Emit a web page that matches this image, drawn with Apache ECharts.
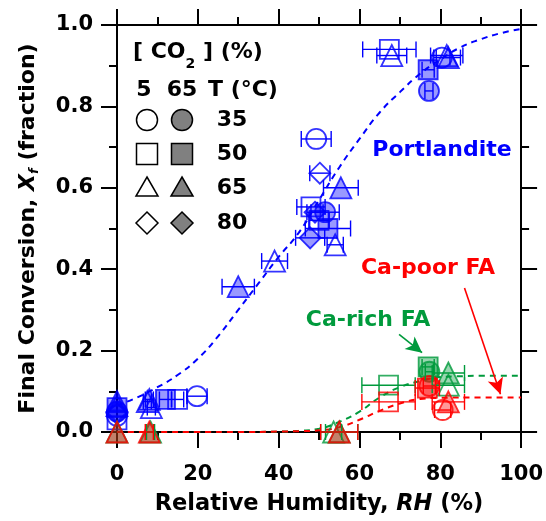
<!DOCTYPE html>
<html>
<head>
<meta charset="utf-8">
<script src="https://cdn.jsdelivr.net/npm/echarts@6/dist/echarts.min.js"></script>
<style>
  html, body { margin: 0; padding: 0; background: #fff; }
  #chart { width: 546px; height: 521px; }
</style>
</head>
<body>
<div id="chart"></div>
<script>
// rows: [RH, Xf, RH error (±), T (°C), CO2 (%)]
const portlandite = [
  [0, 0.06, 0, 50, 65], [0, 0.03, 0, 50, 5], [0, 0.075, 0, 65, 65], [0, 0.065, 0, 65, 5],
  [0, 0.045, 0, 80, 5], [0, 0.05, 0, 80, 65], [0, 0.04, 0, 35, 5], [0, 0.05, 0, 35, 65],
  [8, 0.08, 1, 65, 65], [7.5, 0.075, 1, 65, 5], [8.5, 0.06, 1, 65, 5],
  [12, 0.08, 1.5, 50, 65], [15, 0.08, 1.5, 50, 5], [19.8, 0.088, 2.5, 35, 5],
  [30, 0.357, 4, 65, 65], [39, 0.42, 3.2, 65, 5],
  [49.3, 0.72, 3.7, 35, 5], [50.2, 0.636, 2.5, 80, 5], [55.4, 0.60, 4.3, 65, 65],
  [48, 0.553, 3.5, 50, 5], [50, 0.52, 2.5, 50, 5], [49, 0.54, 2, 80, 65],
  [51.5, 0.54, 3.5, 35, 65], [52.2, 0.50, 5.6, 50, 65], [47.8, 0.477, 3.6, 80, 65],
  [54, 0.46, 2, 65, 5],
  [67.4, 0.94, 6.6, 50, 5], [68, 0.925, 3.7, 65, 5], [77, 0.89, 1.5, 50, 65],
  [77.2, 0.838, 1, 35, 65], [80.4, 0.92, 2, 35, 5], [81.6, 0.925, 4, 65, 5], [82, 0.92, 3, 65, 65]
];
const caRich = [
  [0, 0, 0, 65, 65], [8.3, 0, 1, 65, 65], [53.6, 0, 2, 65, 5], [55, 0, 4.6, 65, 65],
  [67.2, 0.115, 6.6, 50, 5], [77, 0.16, 1.5, 50, 65], [77.3, 0.148, 1, 35, 65],
  [82, 0.145, 4, 65, 65], [82, 0.115, 4, 65, 5]
];
const caPoor = [
  [0, 0, 0, 65, 65], [8, 0, 1, 65, 65], [55, 0, 4.6, 65, 65],
  [67.2, 0.074, 6.6, 50, 5], [76.8, 0.108, 3, 50, 65], [77.3, 0.113, 1.5, 35, 65],
  [80.6, 0.054, 2, 35, 5], [82, 0.074, 4, 65, 65]
];

// dashed fit curves
const portlanditeFit = [
  [0, 0.065], [5, 0.085], [10, 0.11], [15, 0.14], [20, 0.18], [25, 0.235], [30, 0.3],
  [35, 0.365], [40, 0.43], [45, 0.49], [50, 0.57], [55, 0.65], [60, 0.72], [65, 0.785],
  [70, 0.835], [75, 0.88], [80, 0.915], [85, 0.945], [90, 0.965], [95, 0.98], [100, 0.99]
];
const caRichFit = [
  [0, 0], [10, 0], [20, 0], [30, 0], [40, 0.001], [45, 0.003], [50, 0.008], [55, 0.025],
  [60, 0.05], [65, 0.085], [70, 0.11], [75, 0.125], [80, 0.135], [85, 0.137], [90, 0.138], [100, 0.138]
];
const caPoorFit = [
  [0, 0], [10, 0], [20, 0], [30, 0], [40, 0.001], [45, 0.002], [50, 0.004], [55, 0.012],
  [60, 0.03], [65, 0.052], [70, 0.07], [75, 0.081], [80, 0.084], [90, 0.085], [100, 0.085]
];

// annotation arrows, data coords
const richArrow = [[69.8, 0.24], [75.5, 0.195]];
const poorArrow = [[86, 0.354], [94.9, 0.093]];

const FONT = 'DejaVu Sans';
const BLUE = '#0000ff', RED = '#ff0000', GREEN = '#009a3c';
const shapeOf = { 35: 'circle', 50: 'rect', 65: 'triangle', 80: 'diamond' };
const sizeOf = { circle: 20, rect: 19, triangle: 21, diamond: 21 };

function scatterSeries(rows, color, fill) {
  return {
    type: 'scatter',
    z: 3,
    data: rows.map(r => {
      const s = shapeOf[r[3]];
      return {
        value: [r[0], r[1]],
        symbol: s,
        symbolSize: sizeOf[s],
        itemStyle: {
          color: r[4] === 65 ? fill : 'rgba(255,255,255,0)',
          borderColor: color,
          borderWidth: 1.8
        }
      };
    })
  };
}

function errorSeries(rows, color) {
  return {
    type: 'custom',
    z: 4,
    data: rows.filter(r => r[2] > 0).map(r => [r[0], r[1], r[2]]),
    renderItem: function (params, api) {
      const x = api.value(0), y = api.value(1), e = api.value(2);
      const a = api.coord([x - e, y]);
      const b = api.coord([x + e, y]);
      const h = 8;
      const st = { stroke: color, lineWidth: 1.4 };
      return {
        type: 'group',
        children: [
          { type: 'line', shape: { x1: a[0], y1: a[1], x2: b[0], y2: b[1] }, style: st },
          { type: 'line', shape: { x1: a[0], y1: a[1] - h, x2: a[0], y2: a[1] + h }, style: st },
          { type: 'line', shape: { x1: b[0], y1: b[1] - h, x2: b[0], y2: b[1] + h }, style: st }
        ]
      };
    }
  };
}

function fitSeries(data, color, arrow) {
  const s = {
    type: 'line',
    data: data,
    smooth: true,
    showSymbol: false,
    z: 2,
    lineStyle: { color: color, width: 2, type: [6, 5] }
  };
  if (arrow) {
    s.markLine = {
      silent: true,
      symbol: ['none', 'arrow'],
      symbolSize: [12, 16],
      label: { show: false },
      lineStyle: { color: color, width: 1.6, type: 'solid' },
      data: [[{ coord: arrow[0] }, { coord: arrow[1] }]]
    };
  }
  return s;
}

const axisBase = {
  type: 'value',
  axisLine: { show: true, onZero: false, lineStyle: { color: '#000', width: 2 } },
  axisTick: { show: true, length: 16, lineStyle: { color: '#000', width: 2 } },
  minorTick: { show: true, splitNumber: 2, length: 8, lineStyle: { color: '#000', width: 2 } },
  splitLine: { show: false }
};

const labelStyle = { color: '#000', fontFamily: FONT, fontWeight: 'bold', fontSize: 21 };

const chart = echarts.init(document.getElementById('chart'));

// legend block (drawn as graphics)
const lg = [];
const rowsY = [120, 154, 188, 223];
const temps = ['35', '50', '65', '80'];
function legendSymbol(kind, cx, cy, filled) {
  const style = { fill: filled ? '#808080' : '#fff', stroke: '#000', lineWidth: 1.5 };
  if (kind === 0) return { type: 'circle', shape: { cx: cx, cy: cy, r: 10.5 }, style: style };
  if (kind === 1) return { type: 'rect', shape: { x: cx - 10.5, y: cy - 10.5, width: 21, height: 21 }, style: style };
  if (kind === 2) return { type: 'polygon', shape: { points: [[cx, cy - 11], [cx + 11, cy + 8], [cx - 11, cy + 8]] }, style: style };
  return { type: 'polygon', shape: { points: [[cx, cy - 11], [cx + 11, cy], [cx, cy + 11], [cx - 11, cy]] }, style: style };
}
rowsY.forEach((y, i) => {
  lg.push(legendSymbol(i, 147, y, false));
  lg.push(legendSymbol(i, 182, y, true));
  lg.push({ type: 'text', x: 232, y: y, style: { text: temps[i], fill: '#000', font: 'bold 22px "DejaVu Sans"', align: 'center', verticalAlign: 'middle' } });
});
lg.push({
  type: 'text', x: 133, y: 52,
  style: {
    text: '{a|[ CO}{s|2}{a| ] (%)}',
    verticalAlign: 'middle',
    rich: {
      a: { fontFamily: FONT, fontWeight: 'bold', fontSize: 22, fill: '#000', lineHeight: 26, verticalAlign: 'middle' },
      s: { fontFamily: FONT, fontWeight: 'bold', fontSize: 14, fill: '#000', lineHeight: 26, verticalAlign: 'bottom', padding: [0, 0, -6, 0] }
    }
  }
});
lg.push({ type: 'text', x: 144, y: 90, style: { text: '5', fill: '#000', font: 'bold 22px "DejaVu Sans"', align: 'center', verticalAlign: 'middle' } });
lg.push({ type: 'text', x: 182, y: 90, style: { text: '65', fill: '#000', font: 'bold 22px "DejaVu Sans"', align: 'center', verticalAlign: 'middle' } });
lg.push({ type: 'text', x: 208, y: 90, style: { text: 'T (°C)', fill: '#000', font: 'bold 22px "DejaVu Sans"', align: 'left', verticalAlign: 'middle' } });

// curve names
lg.push({ type: 'text', x: 442, y: 150, style: { text: 'Portlandite', fill: BLUE, font: 'bold 22px "DejaVu Sans"', align: 'center', verticalAlign: 'middle' } });
lg.push({ type: 'text', x: 428, y: 268, style: { text: 'Ca-poor FA', fill: RED, font: 'bold 22px "DejaVu Sans"', align: 'center', verticalAlign: 'middle' } });
lg.push({ type: 'text', x: 368, y: 320, style: { text: 'Ca-rich FA', fill: GREEN, font: 'bold 22px "DejaVu Sans"', align: 'center', verticalAlign: 'middle' } });

chart.setOption({
  animation: false,
  backgroundColor: '#fff',
  grid: { left: 117, right: 21, top: 25, bottom: 89 },
  xAxis: [
    Object.assign({}, axisBase, {
      position: 'bottom', min: 0, max: 100, interval: 20,
      axisLabel: Object.assign({ margin: 32 }, labelStyle),
      name: '{a|Relative Humidity, }{i|RH}{a| (%)}',
      nameLocation: 'middle',
      nameGap: 61,
      nameTextStyle: {
        rich: {
          a: { fontFamily: FONT, fontWeight: 'bold', fontSize: 22.5, color: '#000' },
          i: { fontFamily: FONT, fontWeight: 'bold', fontStyle: 'italic', fontSize: 22.5, color: '#000' }
        }
      }
    }),
    Object.assign({}, axisBase, {
      position: 'top', min: 0, max: 100, interval: 20,
      axisLabel: { show: false }
    })
  ],
  yAxis: [
    Object.assign({}, axisBase, {
      position: 'left', min: 0, max: 1, interval: 0.2,
      axisLabel: Object.assign({ margin: 24, formatter: v => v.toFixed(1) }, labelStyle),
      name: '{a|Final Conversion, }{i|X}{s|f}{a| (fraction)}',
      nameLocation: 'middle',
      nameGap: 76,
      nameTextStyle: {
        rich: {
          a: { fontFamily: FONT, fontWeight: 'bold', fontSize: 22, color: '#000', lineHeight: 26, verticalAlign: 'middle' },
          i: { fontFamily: FONT, fontWeight: 'bold', fontStyle: 'italic', fontSize: 22, color: '#000', lineHeight: 26, verticalAlign: 'middle' },
          s: { fontFamily: FONT, fontWeight: 'bold', fontStyle: 'italic', fontSize: 13, color: '#000', lineHeight: 26, verticalAlign: 'bottom' }
        }
      }
    }),
    Object.assign({}, axisBase, {
      position: 'right', min: 0, max: 1, interval: 0.2,
      axisLabel: { show: false }
    })
  ],
  graphic: lg,
  series: [
    fitSeries(portlanditeFit, BLUE),
    fitSeries(caRichFit, GREEN, richArrow),
    fitSeries(caPoorFit, RED, poorArrow),
    scatterSeries(portlandite, BLUE, 'rgba(0,0,255,0.5)'),
    errorSeries(portlandite, BLUE),
    scatterSeries(caRich, GREEN, 'rgba(0,154,60,0.5)'),
    errorSeries(caRich, GREEN),
    scatterSeries(caPoor, RED, 'rgba(255,0,0,0.5)'),
    errorSeries(caPoor, RED)
  ]
});
</script>
</body>
</html>
